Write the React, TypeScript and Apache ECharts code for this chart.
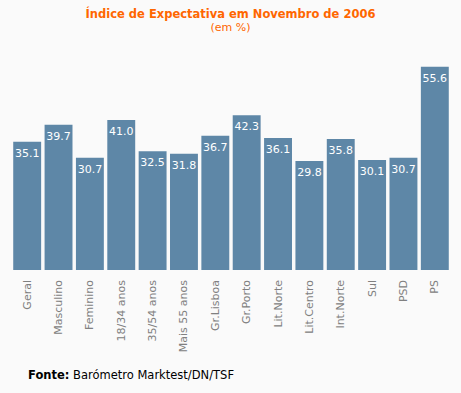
import React, { useEffect, useRef } from "react";
import * as echarts from "echarts";

const categories = ["Geral", "Masculino", "Feminino", "18/34 anos", "35/54 anos", "Mais 55 anos", "Gr.Lisboa", "Gr.Porto", "Lit.Norte", "Lit.Centro", "Int.Norte", "Sul", "PSD", "PS"];
const values = [35.1, 39.7, 30.7, 41.0, 32.5, 31.8, 36.7, 42.3, 36.1, 29.8, 35.8, 30.1, 30.7, 55.6];

const FONT = "'DejaVu Sans', Verdana, sans-serif";

export default function App() {
  const ref = useRef<HTMLDivElement>(null);
  useEffect(() => {
    const chart = echarts.init(ref.current!, null, { renderer: "svg" });
    chart.setOption({
      animation: false,
      backgroundColor: "#fafafa",
      title: {
        text: "Índice de Expectativa em Novembro de 2006",
        subtext: "(em %)",
        left: "center",
        top: 3,
        itemGap: 2,
        textStyle: { color: "#ff6600", fontSize: 11.5, fontWeight: "bold", fontFamily: FONT },
        subtextStyle: { color: "#ff6600", fontSize: 11, fontFamily: FONT },
      },
      grid: { left: 11.5, right: 10.5, top: 50.6, bottom: 123 },
      xAxis: {
        type: "category",
        data: categories,
        axisLine: { show: false },
        axisTick: { show: false },
        axisLabel: {
          rotate: 90,
          interval: 0,
          margin: 10,
          color: "#808080",
          fontSize: 11,
          fontFamily: FONT,
        },
      },
      yAxis: {
        type: "value",
        min: 0,
        max: 60,
        show: false,
        splitLine: { show: false },
      },
      series: [
        {
          type: "bar",
          data: values,
          barCategoryGap: "11%",
          itemStyle: { color: "#5e87a7" },
          label: {
            show: true,
            position: "insideTop",
            distance: 6,
            color: "#ffffff",
            fontSize: 11,
            fontFamily: FONT,
            formatter: (p: any) => Number(p.value).toFixed(1),
          },
        },
      ],
      graphic: [
        {
          type: "text",
          left: 28,
          top: 369,
          style: {
            text: "{b|Fonte:} Barómetro Marktest/DN/TSF",
            rich: {
              b: { fontWeight: "bold", fontSize: 11.5, fontFamily: FONT, fill: "#000" },
            },
            fontSize: 11.5,
            fontFamily: FONT,
            fill: "#000",
          },
        },
      ],
    });
    return () => chart.dispose();
  }, []);
  return <div ref={ref} style={{ width: 461, height: 393, position: "absolute", left: 0, top: 0 }} />;
}
